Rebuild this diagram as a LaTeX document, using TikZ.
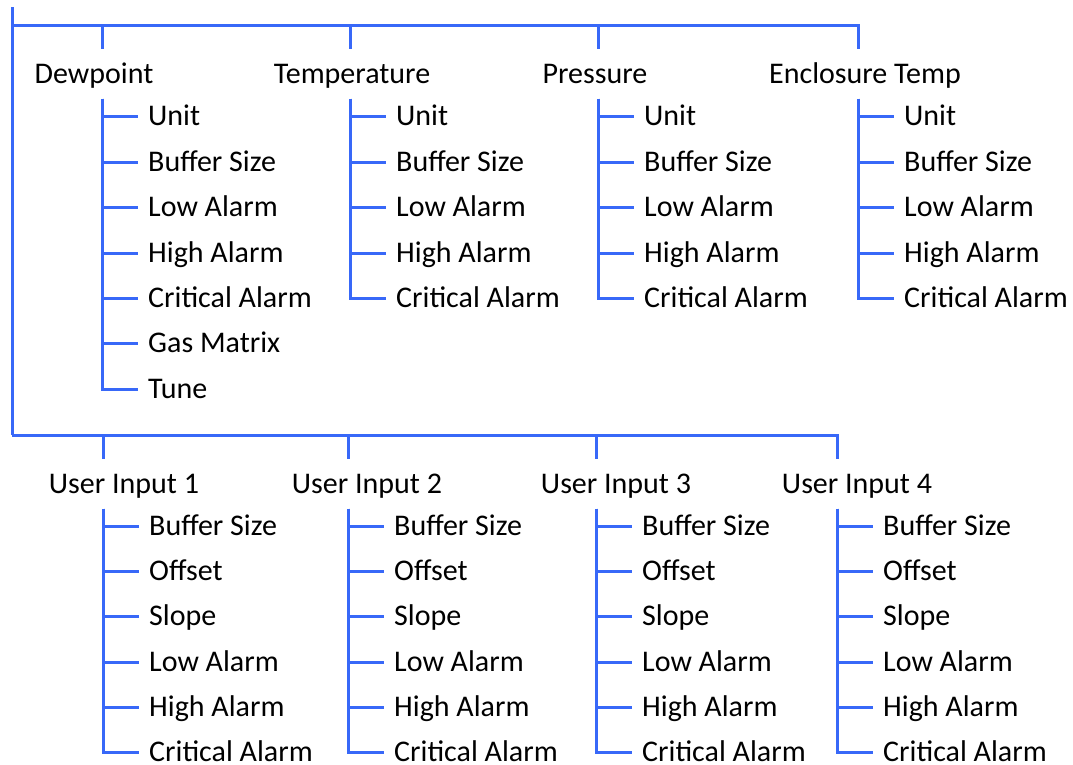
\documentclass[tikz,border=0pt]{standalone}
\usepackage{fontspec}
\setmainfont{Carlito}
\definecolor{treeblue}{RGB}{56,104,248}
\tikzset{
  x=1pt, y=-1pt,
  conn/.style={draw=treeblue, line width=3pt},
  head/.style={font=\fontsize{30}{35}\selectfont, text height=19.4pt, text depth=0pt, inner xsep=0pt, inner ysep=15pt, anchor=center},
  leaf/.style={font=\fontsize{30}{35}\selectfont, text height=19.4pt, text depth=0pt, inner xsep=10pt, inner ysep=0pt, anchor=west},
}
\begin{document}
\begin{tikzpicture}
\useasboundingbox (0,0) rectangle (1073,764);
% root spine
\coordinate (root) at (12,7);
\coordinate (bus1) at (12,25);
\coordinate (bus2) at (12,435);
% column x positions
\coordinate (t1) at (102,25);
\coordinate (t2) at (350,25);
\coordinate (t3) at (598,25);
\coordinate (t4) at (858,25);
\coordinate (b1) at (103,435);
\coordinate (b2) at (348,435);
\coordinate (b3) at (596,435);
\coordinate (b4) at (837,435);
% top headers
\node[head] (h1) at (94,74) {Dewpoint};
\node[head] (h2) at (352,74) {Temperature};
\node[head] (h3) at (595,74) {Pressure};
\node[head] (h4) at (865,74) {Enclosure Temp};
% bottom headers
\node[head] (g1) at (124,484) {User Input 1};
\node[head] (g2) at (367,484) {User Input 2};
\node[head] (g3) at (616,484) {User Input 3};
\node[head] (g4) at (857,484) {User Input 4};
% spine and buses
\draw[conn] (root) -- (bus2);
\draw[conn] (bus1) -| (h4.north -| t4);
\draw[conn] (bus2) -| (g4.north -| b4);
\foreach \i in {1,2,3} {
  \draw[conn] (t\i) -- (h\i.north -| t\i);
  \draw[conn] (b\i) -- (g\i.north -| b\i);
}
% Dewpoint children
\node[leaf] (a1) at (138,116) {Unit};
\node[leaf] (a2) at (138,162) {Buffer Size};
\node[leaf] (a3) at (138,207) {Low Alarm};
\node[leaf] (a4) at (138,253) {High Alarm};
\node[leaf] (a5) at (138,298) {Critical Alarm};
\node[leaf] (a6) at (138,343) {Gas Matrix};
\node[leaf] (a7) at (138,389) {Tune};
\foreach \j in {1,...,7} \draw[conn] (h1.south -| t1) |- (a\j.west);
% Temperature, Pressure, Enclosure children
\foreach \c/\xx in {2/386,3/634,4/894} {
  \node[leaf] (c\c u) at (\xx,116) {Unit};
  \node[leaf] (c\c b) at (\xx,162) {Buffer Size};
  \node[leaf] (c\c l) at (\xx,207) {Low Alarm};
  \node[leaf] (c\c h) at (\xx,253) {High Alarm};
  \node[leaf] (c\c c) at (\xx,298) {Critical Alarm};
  \foreach \k in {u,b,l,h,c} \draw[conn] (h\c.south -| t\c) |- (c\c\k.west);
}
% User input children
\foreach \c/\xx in {1/139,2/384,3/632,4/873} {
  \node[leaf] (u\c b) at (\xx,526) {Buffer Size};
  \node[leaf] (u\c o) at (\xx,571) {Offset};
  \node[leaf] (u\c s) at (\xx,616) {Slope};
  \node[leaf] (u\c l) at (\xx,662) {Low Alarm};
  \node[leaf] (u\c h) at (\xx,707) {High Alarm};
  \node[leaf] (u\c c) at (\xx,752) {Critical Alarm};
  \foreach \k in {b,o,s,l,h,c} \draw[conn] (g\c.south -| b\c) |- (u\c\k.west);
}
\end{tikzpicture}
\end{document}
